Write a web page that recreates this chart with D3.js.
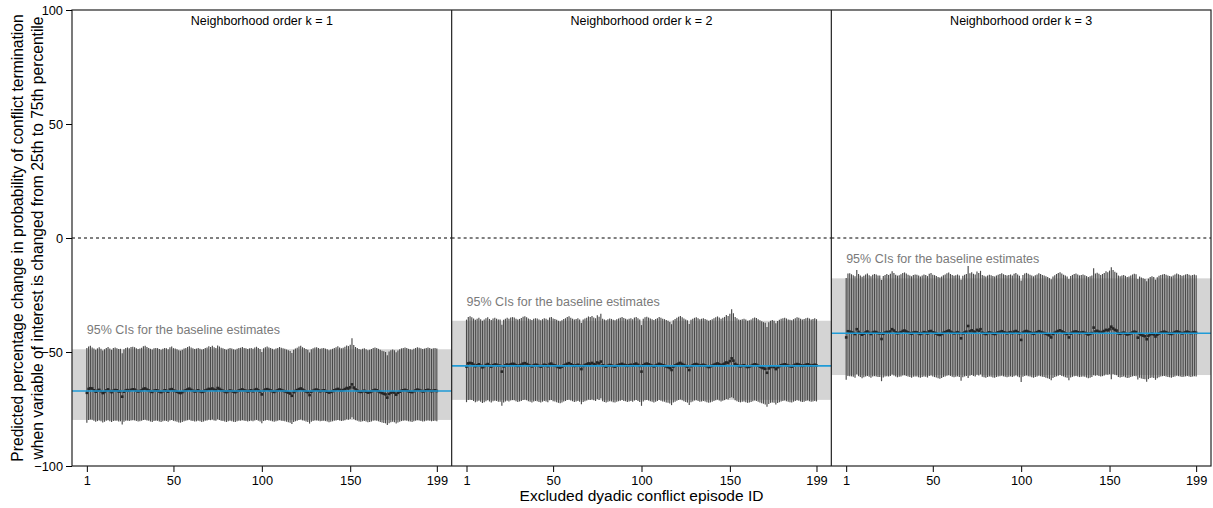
<!DOCTYPE html>
<html>
<head>
<meta charset="utf-8">
<script src="https://cdn.jsdelivr.net/npm/d3@7"></script>
<style>
html,body{margin:0;padding:0;background:#fff;}
svg{display:block;font-family:"Liberation Sans",Arial,Helvetica,sans-serif;}
</style>
</head>
<body>
<svg id="chart" width="1213" height="508"></svg>
<script>
// ---------------- DATA ----------------
const panelTitles = ["Neighborhood order k = 1", "Neighborhood order k = 2", "Neighborhood order k = 3"];
const xTickValues = [1, 50, 100, 150, 199];
const yTickValues = [-100, -50, 0, 50, 100];
const yTitleLines = ["Predicted percentage change in probability of conflict termination",
                     "when variable of interest is changed from 25th to 75th percentile"];
const xTitle = "Excluded dyadic conflict episode ID";
const bandLabel = "95% CIs for the baseline estimates";

const baselineEst = [-67.1, -56.1, -41.8];
const baselineLo  = [-79.8, -71.0, -60.1];
const baselineHi  = [-48.8, -36.3, -17.7];

const est1 = [
-67.9,-66.2,-65.9,-66.0,-66.8,-67.4,-67.0,-66.6,-67.2,-68.0,-67.5,-66.9,-66.4,-67.1,-67.6,-67.0,-66.7,-66.8,-67.3,-67.2,
-69.6,-67.4,-66.9,-66.7,-67.0,-66.6,-66.4,-66.5,-67.0,-67.3,-67.1,-66.8,-66.2,-66.0,-66.5,-66.9,-67.2,-67.5,-67.0,-66.8,
-66.9,-67.3,-67.6,-67.2,-66.8,-67.0,-67.4,-66.5,-66.3,-66.9,-67.1,-67.4,-67.8,-68.0,-67.6,-67.1,-66.8,-66.4,-66.1,-66.6,
-67.0,-67.3,-67.1,-66.8,-67.2,-67.5,-67.3,-66.9,-66.6,-66.2,-66.4,-66.0,-66.5,-66.8,-65.8,-66.2,-66.7,-67.0,-67.3,-67.6,
-67.2,-66.9,-67.1,-67.4,-67.6,-67.2,-66.9,-66.7,-66.4,-66.8,-67.0,-67.3,-67.0,-66.8,-67.2,-66.6,-66.3,-66.8,-67.3,-68.6,
-67.0,-66.5,-66.3,-66.6,-66.9,-67.2,-67.5,-67.1,-66.8,-66.4,-66.7,-67.0,-67.2,-67.5,-67.8,-68.2,-69.2,-67.6,-67.1,-66.7,
-66.3,-66.0,-66.5,-66.9,-67.3,-67.6,-68.9,-67.4,-67.0,-66.6,-66.5,-66.8,-67.2,-67.0,-66.8,-67.1,-67.4,-67.8,-67.5,-67.2,
-66.8,-66.5,-66.2,-66.6,-67.0,-66.7,-66.3,-65.8,-66.0,-65.5,-64.2,-65.6,-66.4,-66.9,-67.3,-67.5,-67.2,-67.0,-67.4,-67.8,
-67.6,-67.3,-66.9,-66.6,-66.8,-67.2,-67.6,-68.0,-68.3,-68.6,-70.0,-68.4,-67.8,-67.5,-67.8,-68.7,-67.9,-67.4,-67.0,-66.8,
-66.6,-66.9,-67.2,-67.4,-67.6,-67.2,-66.8,-66.5,-66.7,-67.0,-67.3,-67.1,-66.8,-66.6,-66.9,-67.2,-67.0,-66.8,-67.1];
const hi1 = [
-48.2,-47.6,-47.3,-48.0,-48.5,-49.0,-48.4,-47.9,-48.6,-49.3,-48.8,-48.2,-47.8,-48.5,-49.0,-48.3,-48.0,-48.4,-48.7,-48.6,
-50.6,-48.8,-48.3,-48.0,-48.4,-47.8,-47.7,-47.9,-48.4,-48.7,-48.5,-48.1,-47.5,-47.3,-47.8,-48.3,-48.6,-48.9,-48.4,-48.2,
-48.3,-48.7,-49.0,-48.6,-48.2,-48.4,-48.8,-47.9,-47.6,-48.3,-48.5,-48.8,-49.2,-49.4,-49.0,-48.5,-48.2,-47.8,-47.5,-48.0,
-48.4,-48.7,-48.5,-48.2,-48.6,-48.9,-48.7,-48.3,-48.0,-47.5,-47.8,-47.3,-47.9,-48.2,-47.1,-47.6,-48.1,-48.4,-48.7,-49.0,
-48.6,-48.3,-48.5,-48.8,-49.0,-48.6,-48.3,-48.1,-47.8,-48.2,-48.4,-48.7,-48.4,-48.2,-48.6,-48.0,-47.7,-48.2,-48.7,-50.0,
-48.4,-47.9,-47.6,-48.0,-48.3,-48.6,-48.9,-48.5,-48.2,-47.8,-48.1,-48.4,-48.6,-48.9,-49.2,-49.6,-50.4,-49.0,-48.5,-48.1,
-47.6,-47.3,-47.9,-48.3,-48.7,-49.0,-50.2,-48.8,-48.4,-48.0,-47.9,-48.2,-48.6,-48.4,-48.2,-48.5,-48.8,-49.2,-48.9,-48.6,
-48.2,-47.9,-47.5,-48.0,-48.4,-48.1,-47.7,-47.1,-47.4,-46.8,-44.0,-46.9,-47.8,-48.3,-48.7,-48.9,-48.6,-48.4,-48.8,-49.2,
-49.0,-48.7,-48.3,-48.0,-48.2,-48.6,-49.0,-49.4,-49.7,-50.0,-51.4,-49.8,-49.2,-48.9,-49.2,-50.1,-49.3,-48.8,-48.4,-48.2,
-48.0,-48.3,-48.6,-48.8,-49.0,-48.6,-48.2,-47.9,-48.1,-48.4,-48.7,-48.5,-48.2,-48.0,-48.3,-48.6,-48.4,-48.2,-48.5];
const lo1 = [
-81.0,-79.8,-79.6,-79.7,-80.2,-80.6,-80.3,-80.0,-80.4,-80.9,-80.6,-80.2,-79.9,-80.4,-80.7,-80.3,-80.1,-80.2,-80.5,-80.4,
-81.8,-80.6,-80.2,-80.1,-80.3,-80.0,-79.9,-80.0,-80.3,-80.5,-80.4,-80.2,-79.8,-79.7,-80.0,-80.2,-80.5,-80.7,-80.3,-80.2,
-80.2,-80.5,-80.7,-80.4,-80.2,-80.3,-80.6,-80.0,-79.8,-80.2,-80.4,-80.6,-80.9,-81.0,-80.7,-80.4,-80.2,-79.9,-79.7,-80.1,
-80.3,-80.5,-80.4,-80.2,-80.4,-80.7,-80.5,-80.2,-80.0,-79.7,-79.9,-79.6,-80.0,-80.2,-79.5,-79.8,-80.1,-80.3,-80.5,-80.7,
-80.4,-80.2,-80.4,-80.6,-80.7,-80.4,-80.2,-80.1,-79.9,-80.1,-80.3,-80.5,-80.3,-80.2,-80.4,-80.0,-79.8,-80.2,-80.5,-81.3,
-80.3,-80.0,-79.8,-80.0,-80.2,-80.4,-80.6,-80.4,-80.2,-79.9,-80.1,-80.3,-80.4,-80.6,-80.8,-81.0,-81.6,-80.7,-80.4,-80.1,
-79.8,-79.6,-80.0,-80.2,-80.5,-80.7,-81.4,-80.6,-80.3,-80.0,-80.0,-80.2,-80.4,-80.3,-80.2,-80.3,-80.5,-80.8,-80.6,-80.4,
-80.2,-80.0,-79.8,-80.0,-80.3,-80.1,-79.9,-79.5,-79.7,-79.4,-78.6,-79.4,-79.9,-80.2,-80.5,-80.6,-80.4,-80.3,-80.5,-80.8,
-80.7,-80.5,-80.2,-80.0,-80.1,-80.4,-80.7,-80.9,-81.1,-81.3,-82.0,-81.2,-80.8,-80.6,-80.8,-81.4,-80.9,-80.6,-80.3,-80.2,
-80.0,-80.2,-80.4,-80.5,-80.7,-80.4,-80.1,-79.9,-80.0,-80.3,-80.5,-80.4,-80.2,-80.0,-80.2,-80.4,-80.3,-80.2,-80.4];

const est2 = [
-56.4,-55.0,-54.8,-55.0,-55.6,-56.2,-55.8,-55.4,-56.0,-56.7,-56.2,-55.7,-55.3,-55.9,-56.4,-55.8,-55.5,-55.6,-56.0,-56.0,
-58.6,-56.3,-55.8,-55.5,-55.8,-55.4,-55.2,-55.3,-55.8,-56.1,-55.9,-55.6,-55.1,-54.9,-55.3,-55.7,-56.0,-56.3,-55.8,-55.6,
-55.7,-56.1,-56.4,-56.0,-55.6,-55.8,-56.2,-55.3,-55.1,-55.7,-55.9,-56.2,-56.6,-56.8,-56.4,-55.9,-55.6,-55.2,-54.9,-55.4,
-55.8,-56.1,-55.9,-55.6,-56.0,-57.5,-56.1,-55.7,-55.4,-55.0,-55.2,-54.8,-55.3,-55.6,-54.6,-55.0,-54.2,-55.8,-56.1,-56.4,
-56.0,-55.7,-55.9,-56.2,-56.4,-56.0,-55.7,-55.5,-55.2,-55.6,-55.8,-56.1,-55.8,-55.6,-56.0,-55.4,-55.1,-55.6,-56.1,-58.6,
-55.8,-55.3,-55.1,-55.4,-55.7,-56.0,-56.3,-55.9,-55.6,-55.2,-55.5,-55.8,-56.0,-56.3,-56.6,-57.0,-57.9,-56.4,-55.9,-55.5,
-55.1,-54.8,-55.3,-55.7,-56.1,-56.4,-57.9,-56.2,-55.8,-55.4,-55.3,-55.6,-56.0,-55.8,-55.6,-55.9,-56.2,-56.6,-56.3,-56.0,
-55.6,-55.3,-55.0,-55.4,-55.8,-55.5,-55.1,-54.6,-54.8,-54.0,-52.8,-53.8,-55.2,-55.7,-56.1,-56.3,-56.0,-55.8,-56.2,-56.6,
-56.4,-56.1,-55.7,-55.4,-55.6,-56.0,-56.4,-56.8,-57.1,-57.4,-59.1,-57.2,-56.6,-56.3,-56.6,-57.5,-56.7,-56.2,-55.8,-55.6,
-55.4,-55.7,-56.0,-56.2,-56.4,-56.0,-55.6,-55.3,-55.5,-55.8,-56.1,-55.9,-55.6,-55.4,-55.7,-56.0,-55.8,-55.6,-55.9];
const hi2 = [
-35.8,-34.6,-34.3,-34.8,-35.3,-35.9,-35.4,-35.0,-35.6,-36.3,-35.8,-35.2,-34.8,-35.5,-36.0,-35.3,-35.0,-35.4,-35.8,-35.7,
-38.0,-35.9,-35.4,-35.0,-35.4,-34.9,-34.7,-34.9,-35.4,-35.8,-35.5,-35.1,-34.5,-34.3,-34.8,-35.3,-35.6,-36.0,-35.4,-35.2,
-35.3,-35.7,-36.1,-35.6,-35.2,-35.4,-35.9,-34.9,-34.6,-35.3,-35.5,-35.9,-36.3,-36.5,-36.1,-35.5,-35.2,-34.7,-34.3,-35.0,
-35.4,-35.8,-35.5,-35.2,-35.7,-37.3,-35.8,-35.3,-35.0,-34.4,-34.7,-34.2,-34.9,-35.2,-33.9,-34.5,-33.2,-35.4,-35.8,-36.1,
-35.6,-35.3,-35.5,-35.9,-36.1,-35.6,-35.3,-35.0,-34.7,-35.1,-35.4,-35.7,-35.4,-35.2,-35.6,-34.9,-34.6,-35.2,-35.8,-38.2,
-35.4,-34.8,-34.5,-34.9,-35.3,-35.6,-36.0,-35.5,-35.2,-34.7,-35.0,-35.4,-35.6,-36.0,-36.3,-36.8,-37.8,-36.1,-35.5,-35.0,
-34.5,-34.2,-34.8,-35.3,-35.7,-36.1,-37.7,-35.9,-35.4,-35.0,-34.8,-35.2,-35.6,-35.4,-35.2,-35.5,-35.9,-36.3,-36.0,-35.6,
-35.2,-34.8,-34.4,-34.9,-35.4,-35.0,-34.6,-33.8,-34.2,-33.2,-31.3,-33.0,-34.6,-35.2,-35.7,-35.9,-35.6,-35.4,-35.8,-36.3,
-36.1,-35.7,-35.2,-34.9,-35.1,-35.6,-36.1,-36.5,-36.9,-37.2,-39.0,-37.0,-36.3,-36.0,-36.3,-37.4,-36.4,-35.9,-35.4,-35.2,
-35.0,-35.3,-35.7,-35.9,-36.1,-35.6,-35.2,-34.8,-35.0,-35.4,-35.8,-35.5,-35.2,-35.0,-35.3,-35.7,-35.5,-35.2,-35.6];
const lo2 = [
-72.0,-71.1,-70.9,-71.0,-71.5,-72.0,-71.7,-71.4,-71.8,-72.4,-72.0,-71.6,-71.2,-71.7,-72.1,-71.6,-71.4,-71.5,-71.8,-71.8,
-73.6,-72.1,-71.7,-71.4,-71.7,-71.3,-71.1,-71.2,-71.6,-71.9,-71.7,-71.5,-71.0,-70.9,-71.2,-71.6,-71.8,-72.1,-71.7,-71.5,
-71.6,-71.9,-72.2,-71.8,-71.5,-71.7,-72.0,-71.2,-71.0,-71.6,-71.7,-72.0,-72.3,-72.5,-72.2,-71.7,-71.5,-71.1,-70.9,-71.3,
-71.6,-71.9,-71.7,-71.5,-71.8,-72.9,-71.9,-71.6,-71.3,-70.9,-71.1,-70.8,-71.2,-71.5,-70.6,-71.0,-70.3,-71.6,-71.9,-72.1,
-71.8,-71.6,-71.7,-72.0,-72.2,-71.8,-71.6,-71.4,-71.1,-71.5,-71.6,-71.9,-71.7,-71.5,-71.8,-71.3,-71.1,-71.5,-71.9,-73.6,
-71.7,-71.2,-71.0,-71.3,-71.6,-71.8,-72.1,-71.8,-71.5,-71.1,-71.4,-71.7,-71.8,-72.1,-72.3,-72.6,-73.3,-72.2,-71.8,-71.4,
-71.0,-70.8,-71.2,-71.6,-71.9,-72.2,-73.3,-72.0,-71.7,-71.3,-71.2,-71.5,-71.8,-71.7,-71.5,-71.7,-72.0,-72.3,-72.1,-71.8,
-71.5,-71.2,-70.9,-71.3,-71.7,-71.4,-71.1,-70.6,-70.8,-70.2,-69.8,-70.3,-71.2,-71.6,-71.9,-72.1,-71.8,-71.7,-72.0,-72.3,
-72.2,-71.9,-71.6,-71.3,-71.5,-71.8,-72.2,-72.5,-72.7,-73.0,-74.0,-72.8,-72.3,-72.1,-72.3,-73.0,-72.4,-72.0,-71.7,-71.5,
-71.3,-71.6,-71.8,-72.0,-72.2,-71.8,-71.5,-71.2,-71.4,-71.7,-71.9,-71.8,-71.5,-71.3,-71.6,-71.8,-71.7,-71.5,-71.7];

const est3 = [
-43.6,-40.9,-41.1,-41.3,-41.6,-42.1,-40.0,-41.2,-41.8,-42.4,-41.9,-41.4,-41.0,-41.6,-42.1,-41.5,-41.2,-41.3,-41.7,-41.8,
-44.3,-42.0,-41.5,-41.2,-41.5,-41.0,-40.0,-40.6,-41.4,-41.8,-41.6,-41.3,-40.8,-40.6,-41.0,-41.4,-41.7,-42.0,-41.5,-41.3,
-41.4,-41.8,-42.1,-41.7,-41.3,-41.5,-41.9,-41.0,-40.8,-41.4,-41.6,-41.9,-42.3,-42.5,-42.1,-41.6,-41.3,-40.9,-40.6,-41.1,
-41.5,-41.8,-41.6,-41.3,-41.7,-44.0,-41.8,-41.4,-41.1,-38.6,-40.9,-40.5,-41.0,-41.3,-40.3,-40.7,-40.0,-41.5,-41.8,-42.1,
-41.7,-41.4,-41.6,-41.9,-42.1,-41.7,-41.4,-41.2,-40.9,-41.3,-41.5,-41.8,-41.5,-41.3,-41.7,-41.1,-40.8,-41.3,-41.8,-44.7,
-41.5,-41.0,-40.8,-41.1,-41.4,-41.7,-42.0,-41.6,-41.3,-40.9,-41.2,-41.5,-41.7,-42.0,-42.3,-42.7,-43.6,-42.1,-41.6,-41.2,
-40.8,-40.5,-41.0,-41.4,-41.8,-42.1,-43.6,-41.9,-41.5,-41.1,-41.0,-41.3,-41.7,-41.5,-41.3,-41.6,-41.9,-42.3,-42.0,-41.7,
-39.3,-41.0,-40.7,-41.1,-41.5,-41.2,-40.8,-40.3,-40.5,-40.0,-38.9,-39.7,-40.3,-40.6,-41.8,-42.0,-41.7,-41.5,-41.9,-42.3,
-42.1,-41.8,-41.4,-41.1,-41.3,-43.7,-42.1,-42.5,-42.8,-43.1,-44.4,-42.9,-42.3,-42.0,-42.3,-43.2,-42.4,-41.9,-41.5,-41.3,
-41.1,-41.4,-41.7,-41.9,-42.1,-41.7,-41.3,-41.0,-41.2,-41.5,-41.8,-41.6,-41.3,-41.1,-41.4,-41.7,-41.5,-41.3,-41.6];
const hi3 = [
-17.5,-15.6,-15.5,-15.9,-16.3,-16.8,-14.0,-15.8,-16.4,-17.0,-16.6,-16.0,-15.6,-16.3,-16.8,-16.1,-15.8,-16.0,-16.4,-16.5,
-18.4,-16.7,-16.2,-15.8,-16.2,-15.7,-14.6,-15.3,-16.1,-16.5,-16.3,-15.9,-15.3,-15.1,-15.6,-16.1,-16.4,-16.8,-16.2,-16.0,
-16.1,-16.5,-16.9,-16.4,-16.0,-16.2,-16.7,-15.7,-15.4,-16.1,-16.3,-16.7,-17.1,-17.3,-16.9,-16.3,-16.0,-15.5,-15.1,-15.8,
-16.2,-16.6,-16.3,-16.0,-16.5,-18.3,-16.6,-16.1,-15.8,-12.3,-15.5,-15.0,-15.7,-16.0,-14.7,-15.3,-14.4,-16.2,-16.6,-16.9,
-16.4,-16.1,-16.3,-16.7,-16.9,-16.4,-16.1,-15.8,-15.5,-15.9,-16.2,-16.5,-16.2,-16.0,-16.4,-15.7,-15.4,-16.0,-16.6,-18.8,
-16.2,-15.6,-15.3,-15.7,-16.1,-16.4,-16.8,-16.3,-16.0,-15.5,-15.8,-16.2,-16.4,-16.8,-17.1,-17.6,-18.1,-16.9,-16.3,-15.8,
-15.3,-15.0,-15.6,-16.1,-16.5,-16.9,-18.0,-16.7,-16.2,-15.8,-15.6,-16.0,-16.4,-16.2,-16.0,-16.3,-16.7,-17.1,-16.8,-16.4,
-13.3,-15.6,-15.2,-15.7,-16.2,-15.8,-15.4,-14.6,-15.0,-14.3,-12.8,-14.0,-14.8,-15.2,-16.5,-16.8,-16.4,-16.2,-16.6,-17.1,
-16.9,-16.5,-16.0,-15.7,-15.9,-18.0,-16.9,-17.3,-17.7,-18.0,-19.0,-17.8,-17.1,-16.8,-17.1,-18.3,-17.2,-16.6,-16.2,-16.0,
-15.8,-16.1,-16.5,-16.7,-16.9,-16.4,-16.0,-15.6,-15.9,-16.2,-16.6,-16.3,-16.0,-15.8,-16.1,-16.5,-16.2,-16.0,-16.3];
const lo3 = [
-62.2,-60.5,-60.6,-60.7,-60.9,-61.3,-59.8,-60.6,-61.0,-61.5,-61.1,-60.8,-60.5,-60.9,-61.3,-60.8,-60.6,-60.7,-61.0,-61.0,
-62.8,-61.2,-60.8,-60.6,-60.8,-60.5,-59.9,-60.3,-60.8,-61.1,-60.9,-60.7,-60.3,-60.2,-60.5,-60.8,-61.0,-61.3,-60.9,-60.7,
-60.8,-61.1,-61.3,-61.0,-60.7,-60.9,-61.2,-60.5,-60.3,-60.8,-61.0,-61.2,-61.5,-61.7,-61.4,-61.0,-60.7,-60.4,-60.2,-60.5,
-60.9,-61.1,-60.9,-60.7,-61.0,-62.6,-61.1,-60.8,-60.5,-61.4,-60.4,-60.1,-60.5,-60.7,-60.0,-60.3,-59.8,-60.9,-61.1,-61.3,
-61.0,-60.8,-60.9,-61.2,-61.3,-61.0,-60.8,-60.6,-60.4,-60.7,-60.9,-61.1,-60.9,-60.7,-61.0,-60.6,-60.3,-60.7,-61.1,-63.2,
-60.9,-60.5,-60.3,-60.6,-60.8,-61.1,-61.3,-61.0,-60.7,-60.4,-60.6,-60.9,-61.0,-61.3,-61.5,-61.8,-62.4,-61.4,-61.0,-60.7,
-60.4,-60.1,-60.5,-60.8,-61.1,-61.3,-62.4,-61.2,-60.9,-60.6,-60.5,-60.7,-61.0,-60.9,-60.7,-60.9,-61.2,-61.5,-61.3,-61.0,
-60.2,-60.4,-60.2,-60.5,-60.8,-60.6,-60.3,-59.9,-60.0,-59.7,-62.0,-59.6,-60.0,-60.2,-61.0,-61.2,-61.0,-60.8,-61.1,-61.4,
-61.3,-61.0,-60.7,-60.5,-60.6,-62.1,-61.3,-61.6,-61.8,-62.0,-63.0,-61.9,-61.4,-61.2,-61.4,-62.2,-61.5,-61.1,-60.8,-60.6,
-60.5,-60.7,-61.0,-61.1,-61.3,-61.0,-60.7,-60.4,-60.6,-60.8,-61.0,-60.9,-60.7,-60.5,-60.7,-61.0,-60.8,-60.6,-60.8];

const estimates = [est1, est2, est3];
const upper = [hi1, hi2, hi3];
const lower = [lo1, lo2, lo3];

// ---------------- LAYOUT ----------------
const svg = d3.select("#chart");
const plotTop = 10, plotBottom = 466;
const plotLeft = 72, plotRight = 1211;
const panelW = (plotRight - plotLeft) / 3;

const y = d3.scaleLinear().domain([-100, 100]).range([plotBottom, plotTop]);

const FONT = '"Liberation Sans",Arial,Helvetica,sans-serif';

panelTitles.forEach((title, p) => {
  const x0 = plotLeft + p * panelW;
  const x = d3.scaleLinear().domain([-7.4, 207.4]).range([x0, x0 + panelW]);
  const g = svg.append("g");

  // baseline CI band
  g.append("rect")
    .attr("x", x0).attr("width", panelW)
    .attr("y", y(baselineHi[p])).attr("height", y(baselineLo[p]) - y(baselineHi[p]))
    .attr("fill", "#d4d4d4");

  // band label
  g.append("text")
    .attr("x", x(1)).attr("y", y(baselineHi[p]) - 15)
    .attr("fill", "#7a7a7a").attr("font-size", 12.5)
    .text(bandLabel);

  // dashed zero line
  g.append("line")
    .attr("x1", x0).attr("x2", x0 + panelW)
    .attr("y1", y(0)).attr("y2", y(0))
    .attr("stroke", "#000").attr("stroke-width", 1).attr("stroke-dasharray", "3,3");

  const ids = d3.range(1, 200);
  // error bars
  g.append("g").selectAll("line").data(ids).join("line")
    .attr("x1", d => x(d)).attr("x2", d => x(d))
    .attr("y1", d => y(upper[p][d - 1])).attr("y2", d => y(lower[p][d - 1]))
    .attr("stroke", "#4a4a4a").attr("stroke-width", 1.15);

  // point estimates
  g.append("g").selectAll("rect").data(ids).join("rect")
    .attr("x", d => x(d) - 1.3).attr("y", d => y(estimates[p][d - 1]) - 1.3)
    .attr("width", 2.6).attr("height", 2.6)
    .attr("fill", "#262626");

  // baseline estimate line (drawn over points)
  g.append("line")
    .attr("x1", x0).attr("x2", x0 + panelW)
    .attr("y1", y(baselineEst[p])).attr("y2", y(baselineEst[p]))
    .attr("stroke", "#1f9bd7").attr("stroke-width", 1.6);

  // panel title
  g.append("text")
    .attr("x", x0 + panelW / 2).attr("y", 25)
    .attr("text-anchor", "middle").attr("font-size", 12.5)
    .attr("fill", "#000")
    .text(title);

  // x axis
  const xa = g.append("g")
    .attr("transform", `translate(0,${plotBottom})`)
    .call(d3.axisBottom(x).tickValues(xTickValues).tickSize(6).tickPadding(4).tickFormat(d3.format("d")));
  xa.select(".domain").remove();
  xa.selectAll("text").attr("font-size", 12.8).attr("font-family", FONT).attr("fill", "#000");
  xa.selectAll("line").attr("stroke", "#000");
});

// frame
svg.append("rect")
  .attr("x", plotLeft).attr("y", plotTop)
  .attr("width", plotRight - plotLeft).attr("height", plotBottom - plotTop)
  .attr("fill", "none").attr("stroke", "#222").attr("stroke-width", 1.2);
[1, 2].forEach(i => {
  svg.append("line")
    .attr("x1", plotLeft + i * panelW).attr("x2", plotLeft + i * panelW)
    .attr("y1", plotTop).attr("y2", plotBottom)
    .attr("stroke", "#222").attr("stroke-width", 1.2);
});

// y axis
const ya = svg.append("g")
  .attr("transform", `translate(${plotLeft},0)`)
  .call(d3.axisLeft(y).tickValues(yTickValues).tickSize(6).tickPadding(3).tickFormat(d3.format("d")));
ya.select(".domain").remove();
ya.selectAll("text").attr("font-size", 12.8).attr("font-family", FONT).attr("fill", "#000");
ya.selectAll("line").attr("stroke", "#000");

// y title
const yt = svg.append("text")
  .attr("transform", `translate(23,${(plotTop + plotBottom) / 2}) rotate(-90)`)
  .attr("text-anchor", "middle").attr("font-size", 15.6).attr("fill", "#000");
yt.append("tspan").attr("x", 0).attr("dy", 0).text(yTitleLines[0]);
yt.append("tspan").attr("x", 0).attr("dy", 20).text(yTitleLines[1]);

// x title
svg.append("text")
  .attr("x", (plotLeft + plotRight) / 2).attr("y", 501)
  .attr("text-anchor", "middle").attr("font-size", 15.5).attr("fill", "#000")
  .text(xTitle);
</script>
</body>
</html>
